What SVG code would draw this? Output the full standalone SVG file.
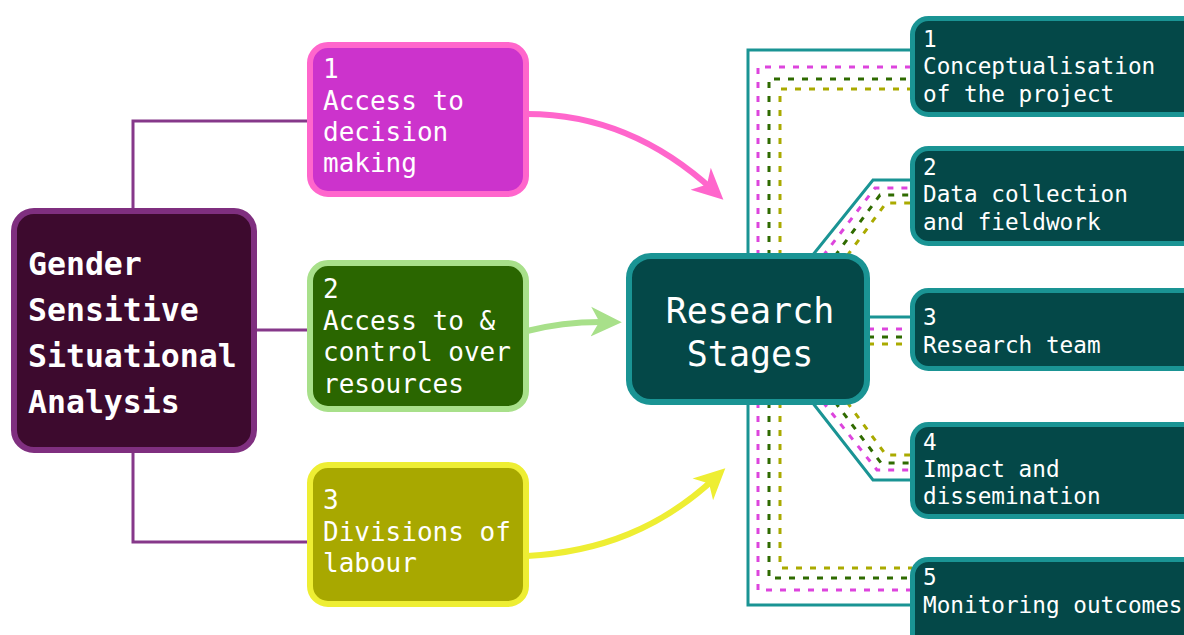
<svg xmlns="http://www.w3.org/2000/svg" width="1184" height="635" viewBox="0 0 1184 635">
  <style>
    .t { fill: #ffffff; font-family: "DejaVu Sans Mono", "Liberation Mono", monospace; }
    .sm { font-size: 26px; }
    .rs { font-size: 22.7px; }
    .big { font-size: 31.5px; font-weight: bold; }
    .mid { font-size: 35px; }
    .purple { fill: none; stroke: #86388a; stroke-width: 3; }
    .teal { fill: none; stroke: #1a9494; stroke-width: 3; }
    .dash { fill: none; stroke-width: 3; stroke-dasharray: 6 8; }
    .dp { stroke: #dd44dd; }
    .dg { stroke: #2f6b00; }
    .dy { stroke: #aaaa00; }
    .stage { fill: #044848; stroke: #1a9494; stroke-width: 5; }
    .arrow { fill: none; stroke-width: 6; }
  </style>
  <defs>
    <marker id="headPink" markerUnits="userSpaceOnUse" markerWidth="32" markerHeight="32" viewBox="0 0 30 30" refX="17" refY="15" orient="auto">
      <path d="M0,1 L29,15 L0,29 L8,15 Z" fill="#ff66cc"/>
    </marker>
    <marker id="headGreen" markerUnits="userSpaceOnUse" markerWidth="32" markerHeight="32" viewBox="0 0 30 30" refX="17" refY="15" orient="auto">
      <path d="M0,1 L29,15 L0,29 L8,15 Z" fill="#a8e08a"/>
    </marker>
    <marker id="headYellow" markerUnits="userSpaceOnUse" markerWidth="32" markerHeight="32" viewBox="0 0 30 30" refX="17" refY="15" orient="auto">
      <path d="M0,1 L29,15 L0,29 L8,15 Z" fill="#eeee33"/>
    </marker>
  </defs>

  <rect width="1184" height="635" fill="#ffffff"/>

  <g id="connectors">
    <!-- analysis tree -->
    <path class="purple" d="M133,210 V121 H309"/>
    <path class="purple" d="M255,330 H309"/>
    <path class="purple" d="M133,451 V542 H309"/>

    <!-- dimension arrows into the research stages -->
    <path class="arrow" stroke="#ff66cc" d="M527,114 C600,114 662,143 714,191" marker-end="url(#headPink)"/>
    <path class="arrow" stroke="#a8e08a" d="M527,331 Q565,321 609,322" marker-end="url(#headGreen)"/>
    <path class="arrow" stroke="#eeee33" d="M527,556 C600,552 662,528 716,477" marker-end="url(#headYellow)"/>

    <!-- stage links: solid -->
    <path class="teal" d="M748,256 V50 H912"/>
    <path class="teal" d="M812,256 L873,180 H912"/>
    <path class="teal" d="M868,317 H912"/>
    <path class="teal" d="M812,402 L873,480 H912"/>
    <path class="teal" d="M748,402 V605 H912"/>

    <!-- stage links: dashed pink -->
    <path class="dash dp" d="M758,256 V67 H912"/>
    <path class="dash dp" d="M823,256 L875,188 H912"/>
    <path class="dash dp" d="M868,329 H912"/>
    <path class="dash dp" d="M823,402 L877,470 H912"/>
    <path class="dash dp" d="M758,402 V590 H912"/>

    <!-- stage links: dashed green -->
    <path class="dash dg" d="M769,256 V79 H912"/>
    <path class="dash dg" d="M835,256 L880,195 H912"/>
    <path class="dash dg" d="M868,337 H912"/>
    <path class="dash dg" d="M835,402 L881,463 H912"/>
    <path class="dash dg" d="M769,402 V578 H912"/>

    <!-- stage links: dashed olive -->
    <path class="dash dy" d="M780,256 V89 H912"/>
    <path class="dash dy" d="M847,256 L886,203 H912"/>
    <path class="dash dy" d="M868,344 H912"/>
    <path class="dash dy" d="M847,402 L886,455 H912"/>
    <path class="dash dy" d="M780,402 V568 H912"/>
  </g>

  <g id="gssa">
    <rect x="14" y="211" width="240" height="239" rx="20" fill="#3d0a2e" stroke="#7f2f7f" stroke-width="6"/>
    <text class="t big" x="28" y="275">Gender</text>
    <text class="t big" x="28" y="321">Sensitive</text>
    <text class="t big" x="28" y="367">Situational</text>
    <text class="t big" x="28" y="413">Analysis</text>
  </g>

  <g id="dim-decision">
    <rect x="310" y="45" width="216" height="149" rx="18" fill="#cc33cc" stroke="#ff66cc" stroke-width="6"/>
    <text class="t sm" x="323" y="78">1</text>
    <text class="t sm" x="323" y="110">Access to</text>
    <text class="t sm" x="323" y="141">decision</text>
    <text class="t sm" x="323" y="172">making</text>
  </g>

  <g id="dim-resources">
    <rect x="310" y="263" width="216" height="146" rx="18" fill="#2a6600" stroke="#a8e08a" stroke-width="6"/>
    <text class="t sm" x="323" y="298">2</text>
    <text class="t sm" x="323" y="330">Access to &amp;</text>
    <text class="t sm" x="323" y="361">control over</text>
    <text class="t sm" x="323" y="393">resources</text>
  </g>

  <g id="dim-labour">
    <rect x="310" y="465" width="216" height="139" rx="18" fill="#a8a800" stroke="#eeee33" stroke-width="6"/>
    <text class="t sm" x="323" y="509">3</text>
    <text class="t sm" x="323" y="541">Divisions of</text>
    <text class="t sm" x="323" y="572">labour</text>
  </g>

  <g id="research-stages">
    <rect x="629" y="256" width="238" height="146" rx="22" fill="#044848" stroke="#1a9494" stroke-width="6"/>
    <text class="t mid" x="750" y="323" text-anchor="middle">Research</text>
    <text class="t mid" x="750" y="366" text-anchor="middle">Stages</text>
  </g>

  <g id="stage-1">
    <rect class="stage" x="912.5" y="18.5" width="300" height="96" rx="16"/>
    <text class="t rs" x="923" y="47">1</text>
    <text class="t rs" x="923" y="74">Conceptualisation</text>
    <text class="t rs" x="923" y="102">of the project</text>
  </g>

  <g id="stage-2">
    <rect class="stage" x="912.5" y="148.5" width="300" height="95" rx="16"/>
    <text class="t rs" x="923" y="175">2</text>
    <text class="t rs" x="923" y="202">Data collection</text>
    <text class="t rs" x="923" y="230">and fieldwork</text>
  </g>

  <g id="stage-3">
    <rect class="stage" x="912.5" y="290.5" width="300" height="78" rx="16"/>
    <text class="t rs" x="923" y="325">3</text>
    <text class="t rs" x="923" y="353">Research team</text>
  </g>

  <g id="stage-4">
    <rect class="stage" x="912.5" y="424.5" width="300" height="92" rx="16"/>
    <text class="t rs" x="923" y="450">4</text>
    <text class="t rs" x="923" y="477">Impact and</text>
    <text class="t rs" x="923" y="504">dissemination</text>
  </g>

  <g id="stage-5">
    <rect class="stage" x="912.5" y="559.5" width="300" height="100" rx="16"/>
    <text class="t rs" x="923" y="585">5</text>
    <text class="t rs" x="923" y="613">Monitoring outcomes</text>
  </g>
</svg>
